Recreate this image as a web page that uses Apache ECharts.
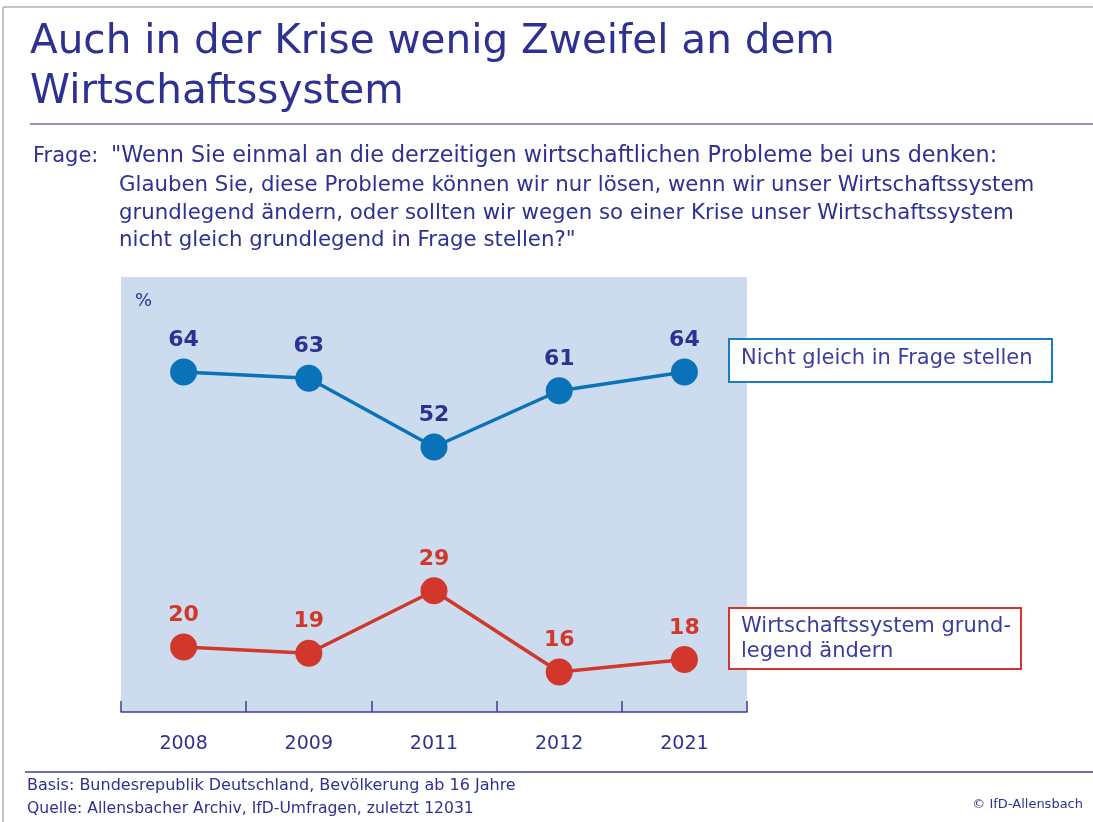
<!DOCTYPE html>
<html>
<head>
<meta charset="utf-8">
<script src="https://cdn.jsdelivr.net/npm/echarts@6/dist/echarts.min.js"></script>
<style>
html,body{margin:0;padding:0;background:#fff;}
#main{width:1093px;height:822px;}
</style>
</head>
<body>
<div id="main"></div>
<script>
// Daten
var years = ['2008', '2009', '2011', '2012', '2021'];
var nichtGleich = [64, 63, 52, 61, 64];
var grundlegend = [20, 19, 29, 16, 18];
var seriesNames = ['Nicht gleich in Frage stellen', 'Wirtschaftssystem grund-\nlegend ändern'];

var navy = '#2e3192';
var blue = '#0a72b9';
var red = '#d2372c';
var font = 'DejaVu Sans';

var myChart = echarts.init(document.getElementById('main'));

var option = {
    backgroundColor: '#fff',
    animation: false,
    textStyle: { fontFamily: font },
    grid: {
        left: 121, right: 346, top: 277, bottom: 110,
        show: true, backgroundColor: '#ccdcee', borderWidth: 0
    },
    xAxis: {
        type: 'category',
        data: years,
        boundaryGap: true,
        axisLine: { lineStyle: { color: '#3b3f98', width: 1.5 } },
        axisTick: { show: true, inside: true, length: 11, lineStyle: { color: '#3b3f98', width: 1.5 } },
        axisLabel: { color: navy, fontSize: 19, margin: 23, fontFamily: font }
    },
    yAxis: {
        type: 'value', min: 9.6, max: 79.2, show: false, splitLine: { show: false }
    },
    series: [{
        name: seriesNames[0],
        type: 'line',
        data: nichtGleich,
        symbol: 'circle',
        symbolSize: 27,
        lineStyle: { color: blue, width: 3.5 },
        itemStyle: { color: blue },
        label: { show: true, position: 'top', distance: 7, color: navy, fontSize: 22, fontWeight: 'bold', fontFamily: font }
    }, {
        name: seriesNames[1],
        type: 'line',
        data: grundlegend,
        symbol: 'circle',
        symbolSize: 27,
        lineStyle: { color: red, width: 3.5 },
        itemStyle: { color: red },
        label: { show: true, position: 'top', distance: 7, color: red, fontSize: 22, fontWeight: 'bold', fontFamily: font }
    }],
    graphic: [
        // Rahmen
        { type: 'line', shape: { x1: 3, y1: 7, x2: 1093, y2: 7 }, style: { stroke: '#b0b0b0', lineWidth: 1.5 } },
        { type: 'line', shape: { x1: 3, y1: 7, x2: 3, y2: 822 }, style: { stroke: '#b0b0b0', lineWidth: 1.5 } },
        // Titel
        { type: 'text', left: 30, top: 17, style: { text: 'Auch in der Krise wenig Zweifel an dem\nWirtschaftssystem', fill: navy, font: '40.5px "' + font + '"', lineHeight: 50 } },
        { type: 'line', shape: { x1: 30, y1: 124, x2: 1093, y2: 124 }, style: { stroke: '#6e71b3', lineWidth: 1.5 } },
        // Frage
        { type: 'text', left: 33, top: 146, style: { text: 'Frage:', fill: navy, font: '21px "' + font + '"' } },
        { type: 'text', left: 111, top: 145, style: { text: '"Wenn Sie einmal an die derzeitigen wirtschaftlichen Probleme bei uns denken:', fill: navy, font: '22.3px "' + font + '"' } },
        { type: 'text', left: 119, top: 172, style: { text: 'Glauben Sie, diese Probleme können wir nur lösen, wenn wir unser Wirtschaftssystem\ngrundlegend ändern, oder sollten wir wegen so einer Krise unser Wirtschaftssystem\nnicht gleich grundlegend in Frage stellen?"', fill: navy, font: '21.3px "' + font + '"', lineHeight: 27.5 } },
        // Prozentzeichen
        { type: 'text', left: 135, top: 292, style: { text: '%', fill: navy, font: '18px "' + font + '"' } },
        // Legendenkästen
        { type: 'rect', shape: { x: 729, y: 339, width: 323, height: 43 }, style: { fill: '#fff', stroke: '#1a7dc0', lineWidth: 2 } },
        { type: 'text', left: 741, top: 348, style: { text: seriesNames[0], fill: '#3a3d9e', font: '21px "' + font + '"' } },
        { type: 'rect', shape: { x: 729, y: 608, width: 292, height: 61 }, style: { fill: '#fff', stroke: red, lineWidth: 2 } },
        { type: 'text', left: 741, top: 614, style: { text: seriesNames[1], fill: '#3a3d9e', font: '21px "' + font + '"', lineHeight: 25 } },
        // Fußzeile
        { type: 'line', shape: { x1: 25, y1: 772, x2: 1093, y2: 772 }, style: { stroke: '#3b3f98', lineWidth: 1.5 } },
        { type: 'text', left: 27, top: 778, style: { text: 'Basis: Bundesrepublik Deutschland, Bevölkerung ab 16 Jahre', fill: navy, font: '16px "' + font + '"' } },
        { type: 'text', left: 27, top: 801, style: { text: 'Quelle: Allensbacher Archiv, IfD-Umfragen, zuletzt 12031', fill: navy, font: '15.6px "' + font + '"' } },
        { type: 'text', right: 10, top: 798, style: { text: '© IfD-Allensbach', fill: navy, font: '13px "' + font + '"' } }
    ]
};
myChart.setOption(option);
</script>
</body>
</html>
